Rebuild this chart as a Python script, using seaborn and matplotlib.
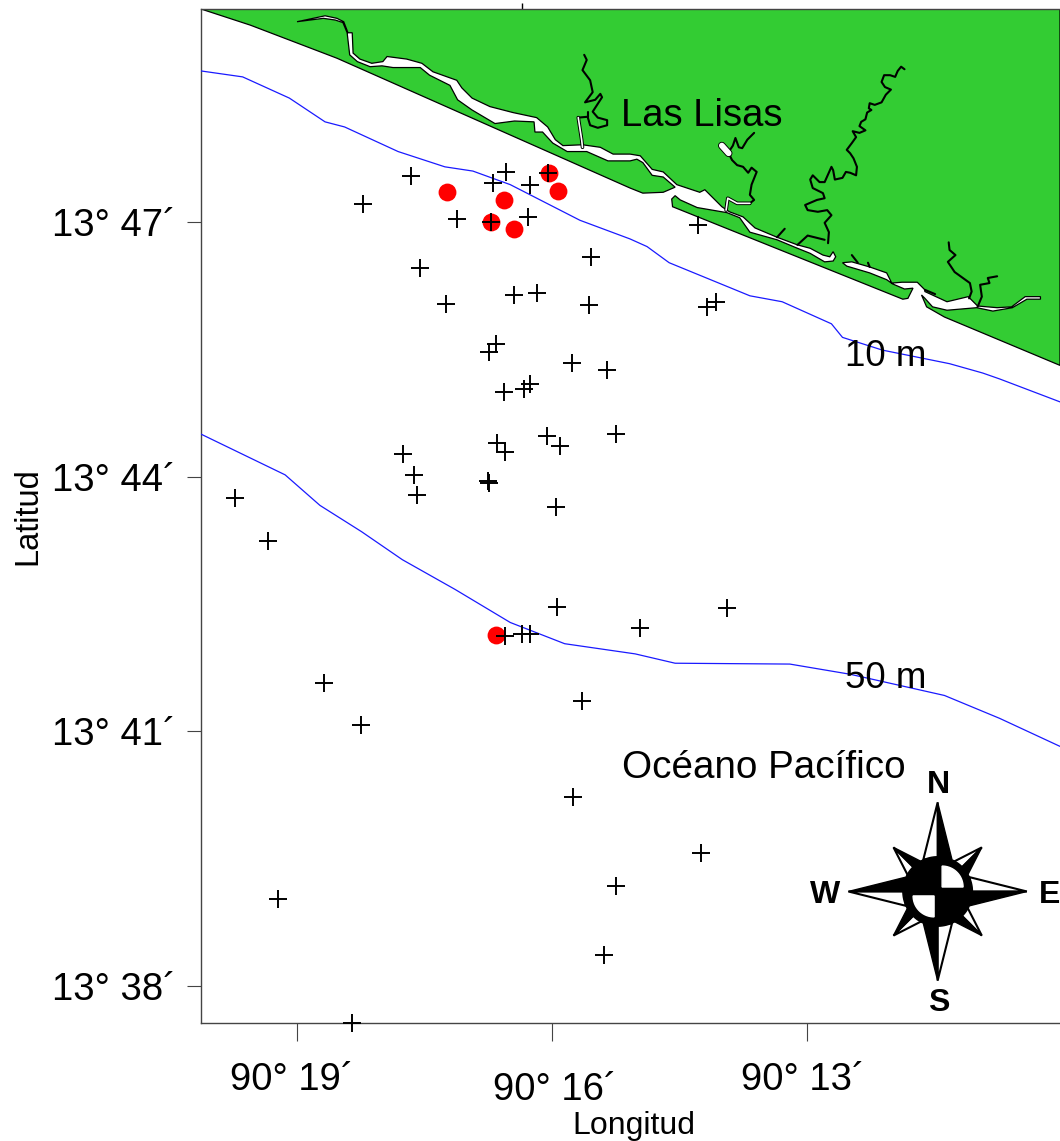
import numpy as np
import pandas as pd
import seaborn as sns
import matplotlib.pyplot as plt
from matplotlib.transforms import ScaledTranslation

# all positions are minutes: lon = 90 deg W + x, lat = 13 deg N + y
station_lon = [17.66, 18.22, 16.54, 16.69, 16.05, 16.26, 17.12, 16.72, 16.28, 14.28, 15.54, 17.55, 17.25,
               16.45, 16.18, 15.56, 14.18, 14.07, 16.66, 16.74, 15.76, 15.35, 16.26, 16.33, 16.56, 15.25,
               16.06, 15.91, 16.65, 16.55, 17.75, 17.62, 16.74, 16.75, 17.59, 19.73, 15.95, 19.34, 15.94,
               13.94, 14.96, 16.55, 16.35, 16.26, 18.68, 15.65, 18.25, 15.75, 14.24, 15.24, 19.22, 15.39, 18.35]
station_lat = [47.54, 47.21, 47.59, 47.46, 47.58, 47.44, 47.04, 47.00, 47.06, 46.96, 46.59, 46.46, 46.03,
               46.14, 46.16, 46.02, 46.00, 46.06, 45.56, 45.47, 45.34, 45.26, 45.09, 45.03, 45.00, 44.50,
               44.48, 44.36, 44.39, 44.29, 44.27, 44.02, 43.92, 43.95, 43.78, 43.75, 43.64, 43.24, 42.46,
               42.45, 42.21, 42.12, 42.15, 42.15, 41.57, 41.35, 41.07, 40.22, 39.56, 39.17, 39.02, 38.36, 37.56]

positive_lon = [17.24, 16.56, 16.04, 15.93, 16.72, 16.45, 16.66]
positive_lat = [47.35, 47.26, 47.58, 47.37, 47.00, 46.92, 42.13]

depth10_lon = [20.13, 19.64, 19.09, 18.67, 18.44, 17.81, 17.26, 16.93, 16.49, 15.67, 15.08, 14.88, 14.62,
               13.67, 13.29, 12.71, 12.58, 12.11, 11.32, 10.93, 10.73, 10.02]
depth10_lat = [48.78, 48.71, 48.46, 48.18, 48.12, 47.83, 47.65, 47.60, 47.44, 47.02, 46.80, 46.71, 46.52,
               46.13, 46.06, 45.80, 45.64, 45.49, 45.33, 45.22, 45.15, 44.88]
depth50_lon = [20.13, 19.14, 18.73, 18.24, 17.76, 17.14, 16.49, 15.85, 15.02, 14.55, 13.20, 12.49, 11.38, 10.73, 10.02]
depth50_lat = [44.50, 44.02, 43.66, 43.35, 43.02, 42.67, 42.28, 42.03, 41.91, 41.80, 41.79, 41.67, 41.42, 41.15, 40.82]

# coast, then both banks of the lagoons, as one outline
land_lon = [20.13, 19.55, 18.53, 15.08, 14.93, 14.69, 14.55, 14.69, 14.82, 14.93, 15.00, 15.08, 15.34, 15.59,
            15.82, 15.99, 16.11, 16.20, 16.21, 16.44, 16.67, 16.94, 17.11, 17.20, 17.44, 17.55, 17.87, 18.00,
            18.14, 18.29, 18.38, 18.41, 18.46, 18.55, 18.69, 19.00, 18.67, 18.53, 18.45, 18.40, 18.35, 18.34,
            18.26, 18.12, 17.99, 17.94, 17.71, 17.53, 17.40, 17.12, 17.06, 16.94, 16.73, 16.46, 16.18, 16.05,
            15.96, 15.87, 15.64, 15.43, 15.28, 15.08, 14.96, 14.82, 14.69, 14.53, 14.26, 14.20, 14.00, 13.91,
            13.75, 13.61, 13.35, 13.11, 12.96, 12.81, 12.73, 12.69, 12.66, 12.69, 12.79, 12.96, 13.11, 13.35,
            13.67, 13.79, 13.94, 14.29,
            14.49, 14.55, 14.59, 14.58, 11.87, 11.81, 11.75, 11.85, 11.99, 12.06, 12.26, 12.53, 12.58, 12.47,
            12.26, 12.06, 12.00, 11.88, 11.70, 11.61, 11.61, 11.35, 11.10, 10.99, 10.76, 10.59, 10.43, 10.25,
            10.25, 10.41, 10.58, 10.81, 11.00, 11.35, 11.52, 11.61, 11.65, 11.59, 11.38, 10.02, 10.02]
land_lat = [49.51, 49.32, 48.93, 47.40, 47.34, 47.35, 47.41, 47.53, 47.55, 47.70, 47.74, 47.72, 47.72, 47.83,
            47.83, 47.93, 48.06, 48.06, 48.18, 48.19, 48.16, 48.32, 48.44, 48.61, 48.73, 48.82, 48.82, 48.84,
            48.83, 48.89, 48.97, 49.23, 49.35, 49.38, 49.40, 49.36, 49.43, 49.40, 49.36, 49.23, 49.23, 48.99,
            48.92, 48.87, 48.89, 48.95, 48.92, 48.87, 48.77, 48.67, 48.58, 48.46, 48.36, 48.29, 48.23, 48.12,
            47.97, 47.90, 47.91, 47.88, 47.80, 47.80, 47.78, 47.62, 47.59, 47.44, 47.35, 47.38, 47.18, 47.12,
            47.06, 46.93, 46.82, 46.73, 46.69, 46.61, 46.59, 46.65, 46.59, 46.54, 46.53, 46.63, 46.69, 46.79,
            46.88, 47.05, 47.11, 47.17,
            47.26, 47.31, 47.27, 47.18, 46.09, 46.10, 46.22, 46.21, 46.27, 46.32, 46.40, 46.48, 46.52, 46.53,
            46.47, 46.40, 46.28, 46.29, 46.29, 46.20, 46.18, 46.06, 46.12, 46.01, 45.99, 46.00, 46.12, 46.12,
            46.09, 46.09, 45.99, 45.95, 45.99, 45.96, 46.00, 46.10, 46.14, 46.00, 45.88, 45.31, 49.51]

river_a_lon = [15.62, 15.59, 15.64, 15.55, 15.52, 15.61, 15.49, 15.43, 15.41, 15.52, 15.46, 15.35, 15.35, 15.46,
               15.55, 15.58, 15.69, 15.65, 15.64]
river_a_lat = [48.97, 48.91, 48.79, 48.67, 48.53, 48.41, 48.44, 48.51, 48.47, 48.30, 48.23, 48.20, 48.14, 48.11,
               48.14, 48.24, 48.23, 47.97, 47.88]
river_b_lon = [13.62, 13.70, 13.76, 13.80, 13.84, 13.87, 13.91, 14.00, 13.96, 13.91, 13.88, 13.82, 13.75, 13.69,
               13.65, 13.59, 13.65, 13.67, 13.62, 13.67, 13.82, 13.93, 13.95, 13.94]
river_b_lat = [48.05, 47.97, 47.87, 47.88, 47.99, 47.90, 47.84, 47.90, 47.84, 47.79, 47.73, 47.67, 47.65, 47.58,
               47.64, 47.59, 47.44, 47.32, 47.26, 47.22, 47.22, 47.28, 47.20, 47.14]
river_c_lon = [11.85, 11.89, 11.93, 11.96, 12.02, 12.09, 12.12, 12.08, 12.01, 12.07, 12.12, 12.20, 12.26, 12.27,
               12.24, 12.29, 12.31, 12.36, 12.38, 12.31, 12.38, 12.46, 12.42, 12.47, 12.53, 12.49, 12.45, 12.41,
               12.42, 12.49, 12.54, 12.58, 12.67, 12.69, 12.71, 12.79, 12.85, 12.93, 12.96, 12.93, 12.81, 12.79,
               12.88, 13.02, 12.99, 12.87, 12.76, 12.71, 12.79, 12.74, 12.75]
river_c_lat = [48.80, 48.83, 48.78, 48.71, 48.73, 48.73, 48.65, 48.59, 48.56, 48.50, 48.41, 48.38, 48.40, 48.34,
               48.32, 48.29, 48.21, 48.18, 48.13, 48.08, 48.05, 48.07, 48.00, 47.93, 47.85, 47.81, 47.75, 47.65,
               47.55, 47.58, 47.59, 47.52, 47.50, 47.61, 47.65, 47.47, 47.47, 47.55, 47.50, 47.40, 47.34, 47.28,
               47.26, 47.20, 47.14, 47.12, 47.14, 47.08, 46.99, 46.88, 46.75]
river_d_lon = [11.33, 11.32, 11.25, 11.34, 11.26, 11.08, 11.06, 11.09]
river_d_lat = [46.76, 46.67, 46.61, 46.53, 46.41, 46.28, 46.18, 46.10]
river_e_lon = [10.76, 10.87, 10.85, 10.96, 10.94, 10.99]
river_e_lat = [46.36, 46.34, 46.28, 46.26, 46.12, 46.00]
branch_lon = [[13.11, 12.99, 12.79], [13.35, 13.26], [12.47, 12.40], [12.28, 12.26], [11.61, 11.49], [15.58, 15.58]]
branch_lat = [[46.73, 46.84, 46.79], [46.82, 46.92], [46.61, 46.52], [46.52, 46.47], [46.20, 46.15], [48.24, 48.30]]

# stretches where the rivers are wide enough to show open water
channel_lon = [[15.69, 15.65, 15.64], [13.67, 13.82, 13.93, 13.95]]
channel_lat = [[48.23, 47.97, 47.88], [47.22, 47.22, 47.28, 47.14]]
blob_lon = [14.00, 13.92]
blob_lat = [47.90, 47.81]

lon_ticks = [19, 16, 13]
lat_ticks = [47, 44, 41, 38]
lon_labels = ["90° 19´", "90° 16´", "90° 13´"]
lat_labels = ["13° 47´", "13° 44´", "13° 41´", "13° 38´"]

sns.set_style("white")
plt.rcParams['font.family'] = ['Liberation Sans', 'DejaVu Sans']
plt.rcParams['text.color'] = 'black'
plt.rcParams['axes.labelcolor'] = 'black'
plt.rcParams['xtick.labelcolor'] = 'black'
plt.rcParams['ytick.labelcolor'] = 'black'

fig = plt.figure(figsize=(10.6, 11.41), dpi=100)
ax = fig.add_axes([201 / 1060, 1 - 1023 / 1141, 859 / 1060, 1014 / 1141])

ax.fill(land_lon, land_lat, facecolor="#33CC33", edgecolor="black", linewidth=0.9, zorder=1)

rivers = [(river_a_lon, river_a_lat), (river_b_lon, river_b_lat), (river_c_lon, river_c_lat),
          (river_d_lon, river_d_lat), (river_e_lon, river_e_lat)] + list(zip(branch_lon, branch_lat))
for rx, ry in rivers:
    ax.plot(rx, ry, color="black", linewidth=1.5, solid_joinstyle="round", zorder=2)
for rx, ry in zip(channel_lon, channel_lat):
    ax.plot(rx, ry, color="black", linewidth=2.6, zorder=2)
    ax.plot(rx, ry, color="white", linewidth=1.2, zorder=2)
ax.plot(blob_lon, blob_lat, color="black", linewidth=5.5, zorder=2)
ax.plot(blob_lon, blob_lat, color="white", linewidth=4.2, zorder=2)

sns.lineplot(x=depth10_lon, y=depth10_lat, sort=False, estimator=None, color="#1a1aff", linewidth=0.9, ax=ax, zorder=3)
sns.lineplot(x=depth50_lon, y=depth50_lat, sort=False, estimator=None, color="#1a1aff", linewidth=0.9, ax=ax, zorder=3)

positives = pd.DataFrame({"lon": positive_lon, "lat": positive_lat})
stations = pd.DataFrame({"lon": station_lon, "lat": station_lat})
sns.scatterplot(data=positives, x="lon", y="lat", color="red", s=165, linewidth=0, ax=ax, zorder=4)
sns.scatterplot(data=stations, x="lon", y="lat", marker="+", color="black", s=170, linewidth=1.4,
                ax=ax, zorder=5, clip_on=False)

ax.set_xlim(20.13, 10.02)
ax.set_ylim(37.56, 49.51)


def compass(ax, lon, lat, r):
    # east is towards smaller lon, the x axis runs backwards
    def put(xs, ys, angle):
        a = np.deg2rad(angle)
        xs, ys = np.asarray(xs, float), np.asarray(ys, float)
        return lon - r * (xs * np.cos(a) + ys * np.sin(a)), lat + r * (-xs * np.sin(a) + ys * np.cos(a))

    for angle in range(0, 360, 45):
        tip, half = (1.0, 0.16) if angle % 90 == 0 else (0.70, 0.11)
        ax.fill(*put([0, -half, 0], [tip, 0.36, 0.36], angle), facecolor="white", edgecolor="black",
                linewidth=1.5, joinstyle="miter", zorder=6)
        ax.fill(*put([0, half, 0], [tip, 0.36, 0.36], angle), facecolor="black", edgecolor="black",
                linewidth=1.0, joinstyle="miter", zorder=6)
    t = np.linspace(0, 2 * np.pi, 120)
    ax.fill(*put(0.39 * np.cos(t), 0.39 * np.sin(t), 0), color="black", zorder=7)
    t = np.linspace(0, np.pi / 2, 30)
    ax.fill(*put(np.r_[0.05, 0.05 + 0.235 * np.cos(t)], np.r_[0.05, 0.05 + 0.235 * np.sin(t)], 0), color="white", zorder=8)
    ax.fill(*put(np.r_[-0.04, -0.04 - 0.235 * np.cos(t)], np.r_[-0.05, -0.05 - 0.235 * np.sin(t)], 0), color="white", zorder=8)


compass(ax, 11.46, 39.11, 1.05)

for letter, x, y in [("N", 11.45, 40.37), ("W", 12.78, 39.07), ("E", 10.14, 39.07), ("S", 11.45, 37.80)]:
    ax.text(x, y, letter, fontsize=23, fontweight="bold", ha="center", va="center", color="black",
            clip_on=False, zorder=9)

ax.text(15.19, 48.13, "Las Lisas", fontsize=27.5, va="baseline", zorder=9)
ax.text(12.55, 45.30, "10 m", fontsize=26.5, va="baseline", zorder=9)
ax.text(12.55, 41.51, "50 m", fontsize=26.5, va="baseline", zorder=9)
ax.text(15.18, 40.45, "Océano Pacífico", fontsize=27.8, va="baseline", zorder=9)

for side in ["top", "left", "bottom"]:
    ax.spines[side].set_visible(True)
    ax.spines[side].set_color("#444444")
    ax.spines[side].set_linewidth(1.0)
ax.spines["right"].set_visible(False)

ax.set_xticks(lon_ticks, lon_labels)
ax.set_yticks(lat_ticks, lat_labels)
ax.tick_params(axis="x", bottom=True, length=13, width=0.8, color="#444444", labelsize=27.5, pad=15)
ax.tick_params(axis="y", left=True, length=10, width=0.8, color="#444444", labelsize=27.5, pad=8)
ax.xaxis.get_major_ticks()[1].set_pad(22)

# the x labels sit a little off their ticks in the original
for label, shift in zip(ax.get_xticklabels(), [-5, 3, -4]):
    label.set_transform(label.get_transform() + ScaledTranslation(shift / 100, 0, fig.dpi_scale_trans))

# stray tick on the top edge
top = ax.secondary_xaxis("top")
top.set_xticks([16.35], [""])
top.tick_params(length=4, width=1.0, color="black")
top.spines["top"].set_visible(False)

ax.set_xlabel("Longitud", fontsize=23)
ax.xaxis.set_label_coords((634 - 201) / 859, -(1111 - 1023) / 1014)
ax.set_ylabel("Latitud", fontsize=23.5)
ax.yaxis.set_label_coords((43 - 201) / 859, (1023 - 516) / 1014)

fig.savefig("out.png", dpi=100)
